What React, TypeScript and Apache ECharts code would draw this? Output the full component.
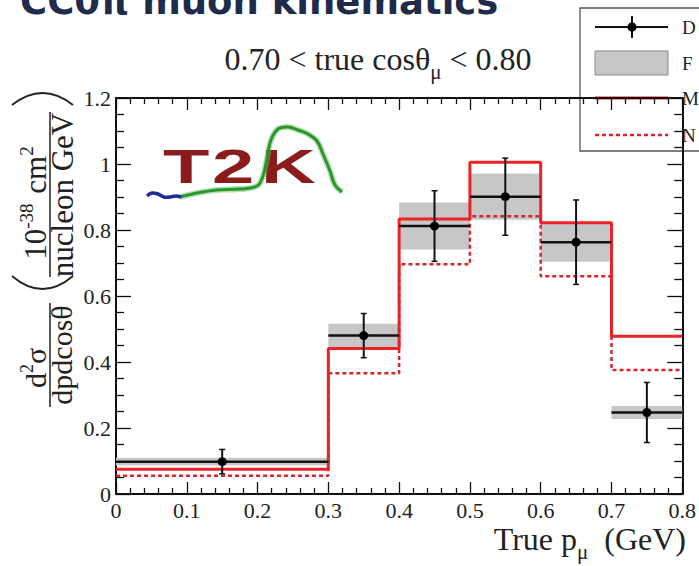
import React, { useEffect, useRef } from "react";
import * as echarts from "echarts";

// Binning in true muon momentum (GeV)
const binEdges = [0, 0.3, 0.4, 0.5, 0.6, 0.7, 0.8];
// Measured cross section and its total uncertainty (1e-38 cm^2 / nucleon / GeV)
const dataValues = [0.098, 0.48, 0.812, 0.901, 0.763, 0.247];
const dataErrors = [0.037, 0.067, 0.107, 0.117, 0.128, 0.091];
// Flux-only uncertainty band around the measurement
const fluxErrors = [0.012, 0.036, 0.071, 0.07, 0.059, 0.02];
// Model predictions
const mcNominal = [0.075, 0.441, 0.833, 1.005, 0.822, 0.478];
const mcAlternative = [0.055, 0.366, 0.696, 0.842, 0.66, 0.376];
const legendLabels = ["D", "F", "M", "N"];

const SERIF = "Liberation Serif";
const BLACK = "#111111";
const RED = "#ec2226";
const RED_DOT = "#d3282b";

let measureCtx: CanvasRenderingContext2D | null = null;
function measure(text: string, size: number, family: string, weight = "normal") {
  if (!measureCtx) measureCtx = document.createElement("canvas").getContext("2d");
  if (!measureCtx) return text.length * size * 0.5;
  measureCtx.font = `${weight} ${size}px "${family}"`;
  return measureCtx.measureText(text).width;
}

type Run = { text: string; size: number; shift?: number; gap?: number };

// Lays out a line of text runs (with sub/superscripts) along a baseline.
function inline(
  runs: Run[],
  anchor: number,
  baseline: number,
  align: "left" | "center" | "right",
  fill: string,
  family = SERIF
) {
  const widths = runs.map((r) => measure(r.text, r.size, family) + (r.gap || 0));
  const total = widths.reduce((a, b) => a + b, 0);
  let cur = align === "left" ? anchor : align === "center" ? anchor - total / 2 : anchor - total;
  return runs.map((r, i) => {
    const el = {
      type: "text",
      x: cur + (r.gap || 0),
      y: baseline + (r.shift || 0) - 0.34 * r.size,
      style: {
        text: r.text,
        fontSize: r.size,
        fontFamily: family,
        fill,
        textAlign: "left",
        verticalAlign: "middle",
        textVerticalAlign: "middle",
      },
    };
    cur += widths[i];
    return el;
  });
}

function stepData(vals: number[]) {
  return binEdges.map((e, i) => [e, vals[Math.min(i, vals.length - 1)]]);
}

function fluxBox(_params: any, api: any) {
  const p0 = api.coord([api.value(0), api.value(3)]);
  const p1 = api.coord([api.value(1), api.value(2)]);
  return {
    type: "rect",
    shape: { x: p0[0], y: p0[1], width: p1[0] - p0[0], height: p1[1] - p0[1] },
    style: { fill: "#c7c7c7" },
  };
}

function dataPoint(_params: any, api: any) {
  const v = api.value(3);
  const e = api.value(4);
  const lo = api.coord([api.value(0), v]);
  const hi = api.coord([api.value(1), v]);
  const c = api.coord([api.value(2), v]);
  const top = api.coord([api.value(2), v + e]);
  const bot = api.coord([api.value(2), v - e]);
  const line = (x1: number, y1: number, x2: number, y2: number, w: number) => ({
    type: "line",
    shape: { x1, y1, x2, y2 },
    style: { stroke: BLACK, lineWidth: w },
  });
  return {
    type: "group",
    children: [
      line(lo[0], lo[1], hi[0], hi[1], 2.5),
      line(c[0], top[1], c[0], bot[1], 2),
      line(c[0] - 3, top[1], c[0] + 3, top[1], 1.5),
      line(c[0] - 3, bot[1], c[0] + 3, bot[1], 1.5),
      { type: "circle", shape: { cx: c[0], cy: c[1], r: 4.5 }, style: { fill: "#000" } },
    ],
  };
}

function axisCommon(min: number, max: number, interval: number, minorSplit: number, major: number, minor: number) {
  return {
    type: "value",
    min,
    max,
    interval,
    axisLine: { onZero: false, lineStyle: { color: BLACK, width: 2 } },
    axisTick: { inside: true, length: major, lineStyle: { color: BLACK, width: 1.3 } },
    minorTick: { show: true, splitNumber: minorSplit, length: minor, lineStyle: { color: BLACK, width: 1.3 } },
    splitLine: { show: false },
    minorSplitLine: { show: false },
  };
}

const tickFormat = (v: number) => String(Number(v.toFixed(1)));
const tickLabel = { fontFamily: SERIF, fontSize: 22, color: "#222" };

function buildGraphics() {
  const els: any[] = [];

  // Slide heading, cut by the top edge
  els.push({
    type: "text",
    x: 20,
    y: 14 - 0.346 * 37,
    style: {
      text: "CC0π muon kinematics",
      fontSize: 37,
      fontWeight: "bold",
      fontFamily: "DejaVu Sans",
      fill: "#1e2b4a",
      textAlign: "left",
      verticalAlign: "middle",
      textVerticalAlign: "middle",
    },
  });

  // Bin title
  els.push(
    ...inline(
      [
        { text: "0.70 < true cosθ", size: 32 },
        { text: "μ", size: 21, shift: 9 },
        { text: " < 0.80", size: 32 },
      ],
      378,
      70,
      "center",
      "#222"
    )
  );

  // X axis title
  els.push(
    ...inline(
      [
        { text: "True p", size: 32 },
        { text: "μ", size: 21, shift: 9 },
        { text: " (GeV)", size: 32, gap: 8 },
      ],
      686,
      550,
      "right",
      "#222"
    )
  );

  // Y axis title, rotated: local (u, v) maps to screen (v, -u)
  const yTitle: any[] = [
    ...inline(
      [
        { text: "d", size: 30 },
        { text: "2", size: 18, shift: -13 },
        { text: "σ", size: 30 },
      ],
      -368,
      46,
      "center",
      "#222"
    ),
    ...inline([{ text: "dpdcosθ", size: 30 }], -355, 72, "center", "#222"),
    ...inline(
      [
        { text: "10", size: 31 },
        { text: "-38", size: 19, shift: -13 },
        { text: " cm", size: 31, gap: 2 },
        { text: "2", size: 19, shift: -13 },
      ],
      -203,
      46,
      "center",
      "#222"
    ),
    ...inline([{ text: "nucleon GeV", size: 31 }], -195, 73, "center", "#222"),
  ];
  els.push({ type: "group", x: 0, y: 0, rotation: Math.PI / 2, children: yTitle });
  els.push({ type: "line", shape: { x1: 50, y1: 303, x2: 50, y2: 407 }, style: { stroke: "#222", lineWidth: 1.5 } });
  els.push({ type: "line", shape: { x1: 50, y1: 112, x2: 50, y2: 277 }, style: { stroke: "#222", lineWidth: 1.5 } });
  // Large parentheses around the units
  els.push({
    type: "bezierCurve",
    shape: { x1: 12, y1: 105, x2: 73, y2: 105, cpx1: 42.5, cpy1: 81 },
    style: { stroke: "#222", lineWidth: 1.8, fill: "none" },
  });
  els.push({
    type: "bezierCurve",
    shape: { x1: 12, y1: 276, x2: 73, y2: 276, cpx1: 42.5, cpy1: 302 },
    style: { stroke: "#222", lineWidth: 1.8, fill: "none" },
  });

  // Experiment logo
  const logoLetters = [
    { t: "T", x: 163 },
    { t: "2", x: 212 },
    { t: "K", x: 261 },
  ];
  logoLetters.forEach((l) => {
    els.push({
      type: "text",
      x: l.x,
      y: 183 - 0.34 * 49,
      scaleX: 1.55,
      style: {
        text: l.t,
        fontSize: 49,
        fontWeight: "bold",
        fontFamily: "Liberation Sans",
        fill: "#8b1c1c",
        textAlign: "left",
        verticalAlign: "middle",
        textVerticalAlign: "middle",
      },
    });
  });
  const wave = [
    [180, 197], [197, 193], [217, 190], [240, 189], [257, 186], [263, 176], [267, 158],
    [271, 140], [278, 129], [288, 127], [298, 130], [308, 134], [317, 141], [323, 154],
    [330, 171], [335, 185], [342, 192],
  ];
  els.push({ type: "polyline", shape: { points: wave, smooth: 0.4 }, style: { stroke: "rgba(90,190,90,0.45)", lineWidth: 6, fill: "none" } });
  els.push({ type: "polyline", shape: { points: wave, smooth: 0.4 }, style: { stroke: "#2b962b", lineWidth: 3, fill: "none" } });
  els.push({
    type: "polyline",
    shape: { points: [[147, 196], [152, 193], [158, 194], [164, 197], [170, 197], [176, 196], [181, 197]], smooth: 0.4 },
    style: { stroke: "#1d2a9a", lineWidth: 3.5, fill: "none" },
  });

  // Legend box (runs past the right edge)
  const lg: any[] = [];
  lg.push({ type: "rect", shape: { x: 580, y: 8, width: 140, height: 143 }, style: { fill: "#fff", stroke: "#555", lineWidth: 1.3 } });
  lg.push({ type: "line", shape: { x1: 595, y1: 27, x2: 668, y2: 27 }, style: { stroke: BLACK, lineWidth: 2 } });
  lg.push({ type: "line", shape: { x1: 632, y1: 16, x2: 632, y2: 38 }, style: { stroke: BLACK, lineWidth: 2 } });
  lg.push({ type: "circle", shape: { cx: 632, cy: 27, r: 4.5 }, style: { fill: "#000" } });
  lg.push({ type: "rect", shape: { x: 595, y: 51, width: 73, height: 24 }, style: { fill: "#c7c7c7", stroke: "#888", lineWidth: 1 } });
  lg.push({ type: "line", shape: { x1: 595, y1: 98, x2: 668, y2: 98 }, style: { stroke: RED, lineWidth: 3 } });
  lg.push({ type: "line", shape: { x1: 595, y1: 135, x2: 668, y2: 135 }, style: { stroke: RED_DOT, lineWidth: 2.5, lineDash: [4, 3] } });
  const rows = [27, 63, 98, 135];
  legendLabels.forEach((t, i) => {
    lg.push({
      type: "text",
      x: 682,
      y: rows[i],
      style: { text: t, fontSize: 19, fontFamily: SERIF, fill: "#222", textAlign: "left", verticalAlign: "middle", textVerticalAlign: "middle" },
    });
  });
  els.push({ type: "group", z: 100, children: lg });

  return els;
}

function buildOption() {
  return {
    animation: false,
    backgroundColor: "#fff",
    grid: { left: 116, right: 15, top: 98, bottom: 72, containLabel: false },
    xAxis: [
      {
        ...axisCommon(0, 0.8, 0.1, 5, 12, 6),
        position: "bottom",
        axisLabel: { ...tickLabel, margin: 5, formatter: tickFormat },
      },
      {
        ...axisCommon(0, 0.8, 0.1, 5, 12, 6),
        position: "top",
        axisLabel: { show: false },
      },
    ],
    yAxis: [
      {
        ...axisCommon(0, 1.2, 0.2, 4, 15, 8),
        position: "left",
        axisLabel: { ...tickLabel, margin: 5, formatter: tickFormat },
      },
      {
        ...axisCommon(0, 1.2, 0.2, 4, 15, 8),
        position: "right",
        axisLabel: { show: false },
      },
    ],
    series: [
      {
        type: "custom",
        name: "flux",
        z: 1,
        renderItem: fluxBox,
        encode: { x: [0, 1], y: [2, 3] },
        data: dataValues.map((v, i) => [binEdges[i], binEdges[i + 1], v - fluxErrors[i], v + fluxErrors[i]]),
      },
      {
        type: "line",
        name: "nominal",
        z: 2,
        step: "end",
        symbol: "none",
        lineStyle: { color: RED, width: 3 },
        data: stepData(mcNominal),
      },
      {
        type: "line",
        name: "alternative",
        z: 2,
        step: "end",
        symbol: "none",
        lineStyle: { color: RED_DOT, width: 2.5, type: [4, 3] },
        data: stepData(mcAlternative),
      },
      {
        type: "custom",
        name: "data",
        z: 3,
        renderItem: dataPoint,
        encode: { x: [0, 1, 2], y: 3 },
        data: dataValues.map((v, i) => [binEdges[i], binEdges[i + 1], (binEdges[i] + binEdges[i + 1]) / 2, v, dataErrors[i]]),
      },
    ],
    graphic: { elements: buildGraphics() },
  };
}

export default function App() {
  const ref = useRef<HTMLDivElement>(null);
  useEffect(() => {
    if (!ref.current) return;
    const chart = echarts.init(ref.current, null, { renderer: "svg" });
    chart.setOption(buildOption() as any);
    return () => chart.dispose();
  }, []);
  return (
    <div
      ref={ref}
      style={{ position: "fixed", left: 0, top: 0, width: 699, height: 566, background: "#fff" }}
    />
  );
}
